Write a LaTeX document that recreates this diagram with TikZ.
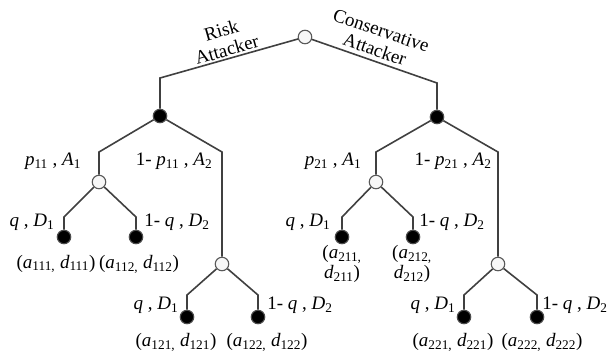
\documentclass[tikz,border=0pt]{standalone}
\usepackage{fontspec}
\setmainfont{Liberation Serif}
\usetikzlibrary{positioning}

\newcommand{\sv}[2]{\textit{#1}\textsubscript{#2}}

\begin{document}
\begin{tikzpicture}[
  x=1pt, y=-1pt,
  wnode/.style={circle, draw=black!65, fill=gray!6, line width=1.1pt, minimum size=13.5pt, inner sep=0pt},
  bnode/.style={circle, draw=black!70, fill=black, line width=1.1pt, minimum size=13.5pt, inner sep=0pt},
  edge/.style={draw=black!75, line width=1.6pt},
  lbl/.style={font=\fontsize{19}{20}\selectfont, inner sep=0pt, align=center}
]
\useasboundingbox (0,0) rectangle (609,357);

% Nodes of the tree
\node[wnode] (root) at (305,37) {};
\node[bnode] (b1) at (160,116) {};
\node[bnode] (b2) at (437,117) {};

\node[wnode] (w11) at (99,182) {};
\node[wnode] (w12) at (222,264) {};
\node[wnode] (w21) at (376,182) {};
\node[wnode] (w22) at (498,264) {};

\node[bnode] (l111) at (64,237) {};
\node[bnode] (l112) at (136,237) {};
\node[bnode] (l121) at (187,317) {};
\node[bnode] (l122) at (258,317) {};
\node[bnode] (l211) at (342,237) {};
\node[bnode] (l212) at (413,237) {};
\node[bnode] (l221) at (464,317) {};
\node[bnode] (l222) at (537,317) {};

% Edges: slanted part, then straight down
\foreach \p/\c/\y in {root/b1/78, root/b2/83,
                      b1/w11/152, b1/w12/152, b2/w21/152, b2/w22/152,
                      w11/l111/217, w11/l112/217, w12/l121/295, w12/l122/295,
                      w21/l211/217, w21/l212/217, w22/l221/295, w22/l222/295} {
  \draw[edge] (\p) -- (\c |- 0,\y) -- (\c);
}

% Attacker types
\node[lbl, rotate=16] (risk) at (224,40) {Risk\\Attacker};
\node[lbl, rotate=-19] (cons) at (378,40) {Conservative\\Attacker};

% Labels, left half
\node[lbl] (t11) at (53,161) {\sv{p}{11} , \sv{A}{1}};
\node[lbl] (t12) at (174,161) {1- \sv{p}{11} , \sv{A}{2}};
\node[lbl] (t111) at (32,222) {\textit{q} , \sv{D}{1}};
\node[lbl] (t112) at (177,222) {1- \textit{q} , \sv{D}{2}};
\node[lbl] (t121) at (156,305) {\textit{q} , \sv{D}{1}};
\node[lbl] (t122) at (300,305) {1- \textit{q} , \sv{D}{2}};
\node[lbl] (o111) at (56,264) {(\sv{a}{111,} \sv{d}{111})};
\node[lbl] (o112) at (139,264) {(\sv{a}{112,} \sv{d}{112})};
\node[lbl] (o121) at (176,342) {(\sv{a}{121,} \sv{d}{121})};
\node[lbl] (o122) at (267,342) {(\sv{a}{122,} \sv{d}{122})};

% Labels, right half
\node[lbl] (t21) at (333,161) {\sv{p}{21} , \sv{A}{1}};
\node[lbl] (t22) at (453,161) {1- \sv{p}{21} , \sv{A}{2}};
\node[lbl] (t211) at (308,222) {\textit{q} , \sv{D}{1}};
\node[lbl] (t212) at (452,222) {1- \textit{q} , \sv{D}{2}};
\node[lbl] (t221) at (433,305) {\textit{q} , \sv{D}{1}};
\node[lbl] (t222) at (575,305) {1- \textit{q} , \sv{D}{2}};
\node[lbl] (o211) at (342,264) {(\sv{a}{211,}\\\sv{d}{211})};
\node[lbl] (o212) at (412,264) {(\sv{a}{212,}\\\sv{d}{212})};
\node[lbl] (o221) at (453,342) {(\sv{a}{221,} \sv{d}{221})};
\node[lbl] (o222) at (542,342) {(\sv{a}{222,} \sv{d}{222})};

\end{tikzpicture}
\end{document}
